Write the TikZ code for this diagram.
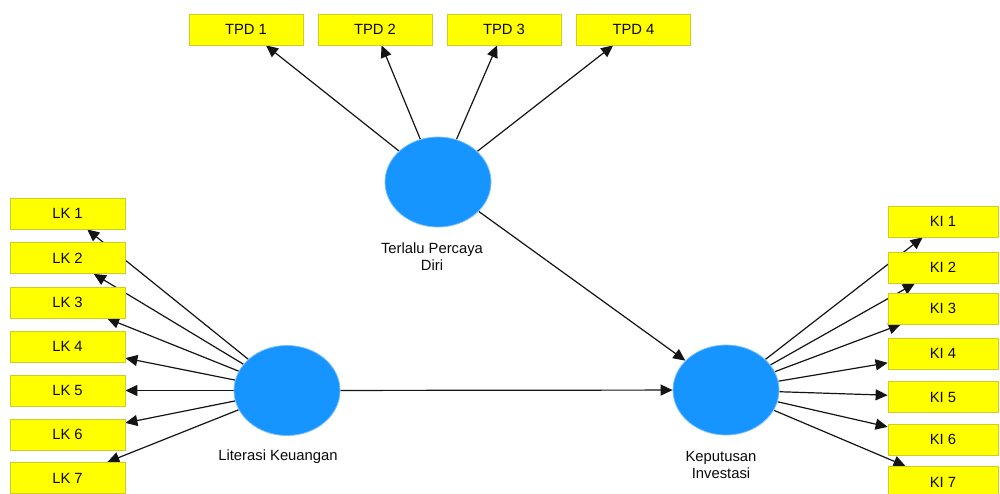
\documentclass[tikz,border=0pt]{standalone}
\usepackage{fontspec}
\setmainfont{Liberation Sans}
\usetikzlibrary{shapes.geometric,arrows.meta,backgrounds}
\definecolor{boxfill}{RGB}{255,255,0}
\definecolor{boxline}{RGB}{205,205,40}
\definecolor{lvfill}{RGB}{22,148,255}
\definecolor{lvline}{RGB}{120,190,255}
\definecolor{txt}{RGB}{10,10,10}
\tikzset{
  ind/.style={rectangle, draw=boxline, line width=0.8pt, fill=boxfill, minimum height=31pt, inner sep=0pt, text=txt, font=\fontsize{14.8}{17}\selectfont},
  lv/.style={ellipse, draw=lvline, line width=0.8pt, fill=lvfill, minimum width=106pt, minimum height=90pt, inner sep=0pt},
  lbl/.style={align=center, text=txt, font=\fontsize{14.8}{17}\selectfont, inner sep=0pt},
  arr/.style={-{Triangle[length=12pt,width=11pt]}, line width=1.2pt, draw={rgb,255:red,20;green,20;blue,20}}
}
\begin{document}
\begin{tikzpicture}[x=1pt,y=-1pt]
\useasboundingbox (0,0) rectangle (1000,493);
% latent variables
\node[lv] (tpd) at (438,182) {};
\node[lv] (lk) at (287,390.5) {};
\node[lv] (ki) at (726,390) {};
% labels
\node[lbl] (tpdl) at (432,257) {Terlalu Percaya\\Diri};
\node[lbl] (lkl) at (278,457) {Literasi Keuangan};
\node[lbl] (kil) at (721,465) {Keputusan\\Investasi};
% TPD indicators
\node[ind, minimum width=114pt] (tpd1) at (246,29.5) {TPD 1};
\node[ind, minimum width=114pt] (tpd2) at (375,29.5) {TPD 2};
\node[ind, minimum width=114pt] (tpd3) at (504,29.5) {TPD 3};
\node[ind, minimum width=114pt] (tpd4) at (633.5,29.5) {TPD 4};
% LK indicators
\node[ind, minimum width=115pt] (lk1) at (67.5,213.5) {LK 1};
\node[ind, minimum width=115pt] (lk2) at (67.5,258) {LK 2};
\node[ind, minimum width=115pt] (lk3) at (67.5,302.5) {LK 3};
\node[ind, minimum width=115pt] (lk4) at (67.5,346.5) {LK 4};
\node[ind, minimum width=115pt] (lk5) at (67.5,390.5) {LK 5};
\node[ind, minimum width=115pt] (lk6) at (67.5,434.5) {LK 6};
\node[ind, minimum width=115pt] (lk7) at (67.5,478) {LK 7};
% KI indicators
\node[ind, minimum width=110pt] (ki1) at (943,221.5) {KI 1};
\node[ind, minimum width=110pt] (ki2) at (943,267.5) {KI 2};
\node[ind, minimum width=110pt] (ki3) at (943,308.5) {KI 3};
\node[ind, minimum width=110pt] (ki4) at (943,353.5) {KI 4};
\node[ind, minimum width=110pt] (ki5) at (943,397) {KI 5};
\node[ind, minimum width=110pt] (ki6) at (943,439.5) {KI 6};
\node[ind, minimum width=110pt] (ki7) at (943,482) {KI 7};
\begin{scope}[on background layer]
\fill[white] (0,0) rectangle (1000,493);
\foreach \i in {1,...,4} \draw[arr] (tpd) -- (tpd\i);
\foreach \i in {1,...,7} \draw[arr] (lk) -- (lk\i);
\foreach \i in {1,...,7} \draw[arr] (ki) -- (ki\i);
\draw[arr] (lk) -- (ki);
\draw[arr] (tpd) -- (ki);
\end{scope}
\end{tikzpicture}
\end{document}
